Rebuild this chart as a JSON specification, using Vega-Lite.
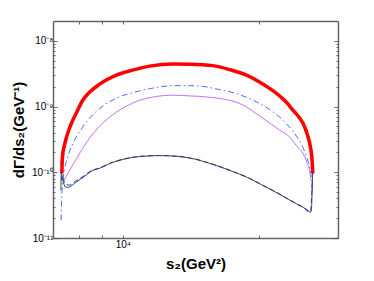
{
  "$schema": "https://vega.github.io/schema/vega-lite/v6.json",
  "width": 285,
  "height": 217,
  "autosize": "none",
  "padding": {"left": 53, "top": 21, "right": 36, "bottom": 43},
  "background": "white",
  "config": {"view": {"stroke": null}, "font": "Liberation Sans"},
  "datasets": {
    "curves": [
      {"series": "total", "s2": 7326, "rate": 1.0e-10},
      {"series": "total", "s2": 7333, "rate": 1.37e-10},
      {"series": "total", "s2": 7356, "rate": 1.875e-10},
      {"series": "total", "s2": 7403, "rate": 2.40e-10},
      {"series": "total", "s2": 7477, "rate": 3.17e-10},
      {"series": "total", "s2": 7573, "rate": 4.20e-10},
      {"series": "total", "s2": 7691, "rate": 5.56e-10},
      {"series": "total", "s2": 7880, "rate": 7.90e-10},
      {"series": "total", "s2": 8149, "rate": 1.247e-9},
      {"series": "total", "s2": 8433, "rate": 1.652e-9},
      {"series": "total", "s2": 8877, "rate": 2.187e-9},
      {"series": "total", "s2": 9668, "rate": 3.0e-9},
      {"series": "total", "s2": 10510, "rate": 3.575e-9},
      {"series": "total", "s2": 11464, "rate": 4.114e-9},
      {"series": "total", "s2": 12915, "rate": 4.45e-9},
      {"series": "total", "s2": 14070, "rate": 4.413e-9},
      {"series": "total", "s2": 15823, "rate": 4.19e-9},
      {"series": "total", "s2": 17264, "rate": 3.64e-9},
      {"series": "total", "s2": 18802, "rate": 3.0e-9},
      {"series": "total", "s2": 20126, "rate": 2.347e-9},
      {"series": "total", "s2": 21514, "rate": 1.742e-9},
      {"series": "total", "s2": 22298, "rate": 1.435e-9},
      {"series": "total", "s2": 23111, "rate": 1.143e-9},
      {"series": "total", "s2": 23836, "rate": 8.78e-10},
      {"series": "total", "s2": 24448, "rate": 7.24e-10},
      {"series": "total", "s2": 25086, "rate": 5.56e-10},
      {"series": "total", "s2": 25468, "rate": 4.35e-10},
      {"series": "total", "s2": 25797, "rate": 3.29e-10},
      {"series": "total", "s2": 26062, "rate": 2.40e-10},
      {"series": "total", "s2": 26238, "rate": 1.75e-10},
      {"series": "total", "s2": 26325, "rate": 1.274e-10},
      {"series": "total", "s2": 26370, "rate": 1.0e-10},

      {"series": "dashdot", "s2": 7296, "rate": 1.85e-11},
      {"series": "dashdot", "s2": 7307, "rate": 3.13e-11},
      {"series": "dashdot", "s2": 7333, "rate": 5.30e-11},
      {"series": "dashdot", "s2": 7371, "rate": 8.07e-11},
      {"series": "dashdot", "s2": 7431, "rate": 1.147e-10},
      {"series": "dashdot", "s2": 7516, "rate": 1.572e-10},
      {"series": "dashdot", "s2": 7632, "rate": 2.16e-10},
      {"series": "dashdot", "s2": 7790, "rate": 2.96e-10},
      {"series": "dashdot", "s2": 7972, "rate": 3.92e-10},
      {"series": "dashdot", "s2": 8149, "rate": 4.92e-10},
      {"series": "dashdot", "s2": 8433, "rate": 6.63e-10},
      {"series": "dashdot", "s2": 8877, "rate": 9.26e-10},
      {"series": "dashdot", "s2": 9668, "rate": 1.338e-9},
      {"series": "dashdot", "s2": 10510, "rate": 1.623e-9},
      {"series": "dashdot", "s2": 11464, "rate": 1.867e-9},
      {"series": "dashdot", "s2": 12915, "rate": 2.076e-9},
      {"series": "dashdot", "s2": 14070, "rate": 2.076e-9},
      {"series": "dashdot", "s2": 15317, "rate": 1.99e-9},
      {"series": "dashdot", "s2": 15823, "rate": 1.90e-9},
      {"series": "dashdot", "s2": 18168, "rate": 1.513e-9},
      {"series": "dashdot", "s2": 19124, "rate": 1.315e-9},
      {"series": "dashdot", "s2": 20434, "rate": 1.047e-9},
      {"series": "dashdot", "s2": 21514, "rate": 8.33e-10},
      {"series": "dashdot", "s2": 22298, "rate": 6.87e-10},
      {"series": "dashdot", "s2": 23111, "rate": 5.37e-10},
      {"series": "dashdot", "s2": 23836, "rate": 4.20e-10},
      {"series": "dashdot", "s2": 24448, "rate": 3.29e-10},
      {"series": "dashdot", "s2": 24955, "rate": 2.57e-10},
      {"series": "dashdot", "s2": 25339, "rate": 2.01e-10},
      {"series": "dashdot", "s2": 25665, "rate": 1.572e-10},
      {"series": "dashdot", "s2": 25933, "rate": 1.23e-10},
      {"series": "dashdot", "s2": 26133, "rate": 9.29e-11},
      {"series": "dashdot", "s2": 26265, "rate": 6.77e-11},
      {"series": "dashdot", "s2": 26316, "rate": 4.94e-11},

      {"series": "thin", "s2": 7382, "rate": 7.26e-11},
      {"series": "thin", "s2": 7497, "rate": 8.66e-11},
      {"series": "thin", "s2": 7662, "rate": 1.147e-10},
      {"series": "thin", "s2": 7852, "rate": 1.518e-10},
      {"series": "thin", "s2": 8095, "rate": 2.16e-10},
      {"series": "thin", "s2": 8433, "rate": 3.29e-10},
      {"series": "thin", "s2": 8877, "rate": 5.01e-10},
      {"series": "thin", "s2": 9668, "rate": 8.18e-10},
      {"series": "thin", "s2": 10510, "rate": 1.122e-9},
      {"series": "thin", "s2": 10892, "rate": 1.247e-9},
      {"series": "thin", "s2": 12915, "rate": 1.487e-9},
      {"series": "thin", "s2": 14070, "rate": 1.45e-9},
      {"series": "thin", "s2": 15317, "rate": 1.40e-9},
      {"series": "thin", "s2": 18168, "rate": 1.11e-9},
      {"series": "thin", "s2": 20434, "rate": 6.63e-10},
      {"series": "thin", "s2": 22298, "rate": 4.35e-10},
      {"series": "thin", "s2": 23469, "rate": 3.40e-10},
      {"series": "thin", "s2": 24322, "rate": 2.48e-10},
      {"series": "thin", "s2": 25086, "rate": 1.94e-10},
      {"series": "thin", "s2": 25598, "rate": 1.416e-10},
      {"series": "thin", "s2": 26000, "rate": 9.62e-11},
      {"series": "thin", "s2": 26133, "rate": 7.52e-11},

      {"series": "lower dashed", "s2": 7307, "rate": 7.5e-11},
      {"series": "lower dashed", "s2": 7345, "rate": 9.0e-11},
      {"series": "lower dashed", "s2": 7382, "rate": 7.8e-11},
      {"series": "lower dashed", "s2": 7485, "rate": 6.5e-11},
      {"series": "lower dashed", "s2": 7613, "rate": 6.4e-11},
      {"series": "lower dashed", "s2": 7880, "rate": 7.4e-11},
      {"series": "lower dashed", "s2": 8220, "rate": 8.9e-11},
      {"series": "lower dashed", "s2": 8577, "rate": 1.08e-10},
      {"series": "lower dashed", "s2": 8877, "rate": 1.16e-10},
      {"series": "lower dashed", "s2": 9342, "rate": 1.36e-10},
      {"series": "lower dashed", "s2": 10175, "rate": 1.62e-10},
      {"series": "lower dashed", "s2": 11078, "rate": 1.76e-10},
      {"series": "lower dashed", "s2": 12067, "rate": 1.80e-10},
      {"series": "lower dashed", "s2": 13140, "rate": 1.76e-10},
      {"series": "lower dashed", "s2": 14070, "rate": 1.65e-10},
      {"series": "lower dashed", "s2": 15823, "rate": 1.33e-10},
      {"series": "lower dashed", "s2": 17264, "rate": 1.07e-10},
      {"series": "lower dashed", "s2": 18802, "rate": 8.5e-11},
      {"series": "lower dashed", "s2": 20434, "rate": 6.35e-11},
      {"series": "lower dashed", "s2": 22298, "rate": 4.62e-11},
      {"series": "lower dashed", "s2": 24288, "rate": 3.3e-11},
      {"series": "lower dashed", "s2": 25339, "rate": 2.8e-11},
      {"series": "lower dashed", "s2": 25865, "rate": 2.5e-11},
      {"series": "lower dashed", "s2": 26062, "rate": 2.5e-11},
      {"series": "lower dashed", "s2": 26250, "rate": 5.0e-11},
      {"series": "lower dashed", "s2": 26330, "rate": 8.0e-11},

      {"series": "lower solid", "s2": 7289, "rate": 5.30e-11},
      {"series": "lower solid", "s2": 7300, "rate": 9.97e-11},
      {"series": "lower solid", "s2": 7326, "rate": 8.97e-11},
      {"series": "lower solid", "s2": 7382, "rate": 7.01e-11},
      {"series": "lower solid", "s2": 7485, "rate": 5.89e-11},
      {"series": "lower solid", "s2": 7613, "rate": 5.99e-11},
      {"series": "lower solid", "s2": 7880, "rate": 7.09e-11},
      {"series": "lower solid", "s2": 8220, "rate": 8.66e-11},
      {"series": "lower solid", "s2": 8577, "rate": 1.069e-10},
      {"series": "lower solid", "s2": 8877, "rate": 1.147e-10},
      {"series": "lower solid", "s2": 9342, "rate": 1.352e-10},
      {"series": "lower solid", "s2": 10175, "rate": 1.611e-10},
      {"series": "lower solid", "s2": 11078, "rate": 1.75e-10},
      {"series": "lower solid", "s2": 12067, "rate": 1.79e-10},
      {"series": "lower solid", "s2": 13140, "rate": 1.75e-10},
      {"series": "lower solid", "s2": 14070, "rate": 1.646e-10},
      {"series": "lower solid", "s2": 15823, "rate": 1.32e-10},
      {"series": "lower solid", "s2": 17264, "rate": 1.069e-10},
      {"series": "lower solid", "s2": 18802, "rate": 8.45e-11},
      {"series": "lower solid", "s2": 20434, "rate": 6.32e-11},
      {"series": "lower solid", "s2": 22298, "rate": 4.60e-11},
      {"series": "lower solid", "s2": 24288, "rate": 3.30e-11},
      {"series": "lower solid", "s2": 25339, "rate": 2.82e-11},
      {"series": "lower solid", "s2": 25865, "rate": 2.54e-11},
      {"series": "lower solid", "s2": 26062, "rate": 2.45e-11},
      {"series": "lower solid", "s2": 26156, "rate": 2.6e-11},
      {"series": "lower solid", "s2": 26225, "rate": 3.13e-11},
      {"series": "lower solid", "s2": 26303, "rate": 6.32e-11},
      {"series": "lower solid", "s2": 26364, "rate": 9.97e-11}
    ]
  },
  "data": {"name": "curves"},
  "layer": [
    {
      "transform": [{"filter": "datum.series == 'total'"}],
      "mark": {"type": "line", "color": "#ff0000", "strokeWidth": 3.5, "interpolate": "monotone", "clip": true},
      "encoding": {
        "x": {
          "field": "s2", "type": "quantitative",
          "scale": {"type": "log", "domain": [7000, 30000], "nice": false},
          "axis": {
            "orient": "bottom",
            "values": [8000, 9000, 10000, 20000],
            "labelExpr": "datum.value == 10000 ? '10⁴' : ''",
            "tickSize": -3, "tickColor": "#444", "tickWidth": 0.8,
            "domainColor": "#666", "domainWidth": 1.5,
            "grid": false,
            "labelFont": "Liberation Sans", "labelFontSize": 10, "labelColor": "#000", "labelPadding": 4,
            "title": "s₂(GeV²)", "titleFont": "Liberation Sans", "titleFontSize": 15, "titleFontWeight": "bold", "titleColor": "#000", "titlePadding": 7
          }
        },
        "y": {
          "field": "rate", "type": "quantitative",
          "scale": {"type": "log", "domain": [1e-11, 2e-8], "nice": false},
          "axis": {
            "orient": "left",
            "values": [1e-11, 1e-10, 1e-9, 1e-8],
            "labelExpr": "datum.value < 3e-11 ? '10⁻¹¹' : datum.value < 3e-10 ? '10⁻¹⁰' : datum.value < 3e-9 ? '10⁻⁹' : '10⁻⁸'",
            "tickSize": -4, "tickColor": "#444", "tickWidth": 0.8,
            "domainColor": "#666", "domainWidth": 1.5,
            "grid": false,
            "labelFont": "Liberation Sans", "labelFontSize": 10, "labelColor": "#000", "labelPadding": 4,
            "title": "dΓ/ds₂(GeV⁻¹)", "titleFont": "Liberation Sans", "titleFontSize": 15, "titleFontWeight": "bold", "titleColor": "#000", "titlePadding": 5
          }
        }
      }
    },
    {
      "transform": [{"filter": "datum.series == 'total' && (datum.s2 < 7700 || datum.s2 > 25000)"}],
      "mark": {"type": "point", "filled": true, "color": "#ff0000", "size": 12, "opacity": 1, "clip": true},
      "encoding": {
        "x": {"field": "s2", "type": "quantitative", "axis": null},
        "y": {"field": "rate", "type": "quantitative", "axis": null}
      }
    },
    {
      "transform": [{"filter": "datum.series == 'dashdot'"}],
      "mark": {"type": "line", "color": "#4a6cff", "strokeWidth": 1, "strokeDash": [6, 3, 1.5, 3], "interpolate": "monotone", "clip": true},
      "encoding": {
        "x": {"field": "s2", "type": "quantitative", "axis": null},
        "y": {"field": "rate", "type": "quantitative", "axis": null}
      }
    },
    {
      "transform": [{"filter": "datum.series == 'thin'"}],
      "mark": {"type": "line", "color": "#c060f8", "strokeWidth": 0.9, "interpolate": "monotone", "clip": true},
      "encoding": {
        "x": {"field": "s2", "type": "quantitative", "axis": null},
        "y": {"field": "rate", "type": "quantitative", "axis": null}
      }
    },
    {
      "transform": [{"filter": "datum.series == 'lower dashed'"}],
      "mark": {"type": "line", "color": "#3f66ff", "strokeWidth": 1.2, "strokeDash": [5, 3], "interpolate": "monotone", "clip": true},
      "encoding": {
        "x": {"field": "s2", "type": "quantitative", "axis": null},
        "y": {"field": "rate", "type": "quantitative", "axis": null}
      }
    },
    {
      "transform": [{"filter": "datum.series == 'lower solid'"}],
      "mark": {"type": "line", "color": "#333333", "strokeWidth": 0.9, "interpolate": "monotone", "clip": true},
      "encoding": {
        "x": {"field": "s2", "type": "quantitative", "axis": null},
        "y": {"field": "rate", "type": "quantitative", "axis": null}
      }
    },
    {
      "mark": {"type": "line", "opacity": 0},
      "encoding": {
        "x": {"field": "s2", "type": "quantitative",
          "axis": {"orient": "top", "values": [8000, 9000, 10000, 20000], "labels": false, "title": null,
            "tickSize": -3, "tickColor": "#444", "tickWidth": 0.8, "domainColor": "#666", "domainWidth": 1.5, "grid": false}},
        "y": {"field": "rate", "type": "quantitative",
          "axis": {"orient": "right", "values": [1e-11, 1e-10, 1e-9, 1e-8], "labels": false, "title": null,
            "tickSize": -4, "tickColor": "#444", "tickWidth": 0.8, "domainColor": "#666", "domainWidth": 1.5, "grid": false}},
        "detail": {"field": "series"}
      }
    },
    {
      "mark": {"type": "line", "opacity": 0},
      "encoding": {
        "x": {"field": "s2", "type": "quantitative", "axis": null},
        "y": {"field": "rate", "type": "quantitative",
          "axis": {"orient": "left", "values": [2e-11, 3e-11, 4e-11, 5e-11, 6e-11, 7e-11, 8e-11, 9e-11, 2e-10, 3e-10, 4e-10, 5e-10, 6e-10, 7e-10, 8e-10, 9e-10, 2e-9, 3e-9, 4e-9, 5e-9, 6e-9, 7e-9, 8e-9, 9e-9], "labels": false, "title": null, "domain": false,
            "tickSize": -2, "tickColor": "#444", "tickWidth": 0.8, "grid": false}},
        "detail": {"field": "series"}
      }
    },
    {
      "mark": {"type": "line", "opacity": 0},
      "encoding": {
        "x": {"field": "s2", "type": "quantitative", "axis": null},
        "y": {"field": "rate", "type": "quantitative",
          "axis": {"orient": "right", "values": [2e-11, 3e-11, 4e-11, 5e-11, 6e-11, 7e-11, 8e-11, 9e-11, 2e-10, 3e-10, 4e-10, 5e-10, 6e-10, 7e-10, 8e-10, 9e-10, 2e-9, 3e-9, 4e-9, 5e-9, 6e-9, 7e-9, 8e-9, 9e-9], "labels": false, "title": null, "domain": false,
            "tickSize": -2, "tickColor": "#444", "tickWidth": 0.8, "grid": false}},
        "detail": {"field": "series"}
      }
    }
  ],
  "resolve": {"axis": {"x": "independent", "y": "independent"}}
}
